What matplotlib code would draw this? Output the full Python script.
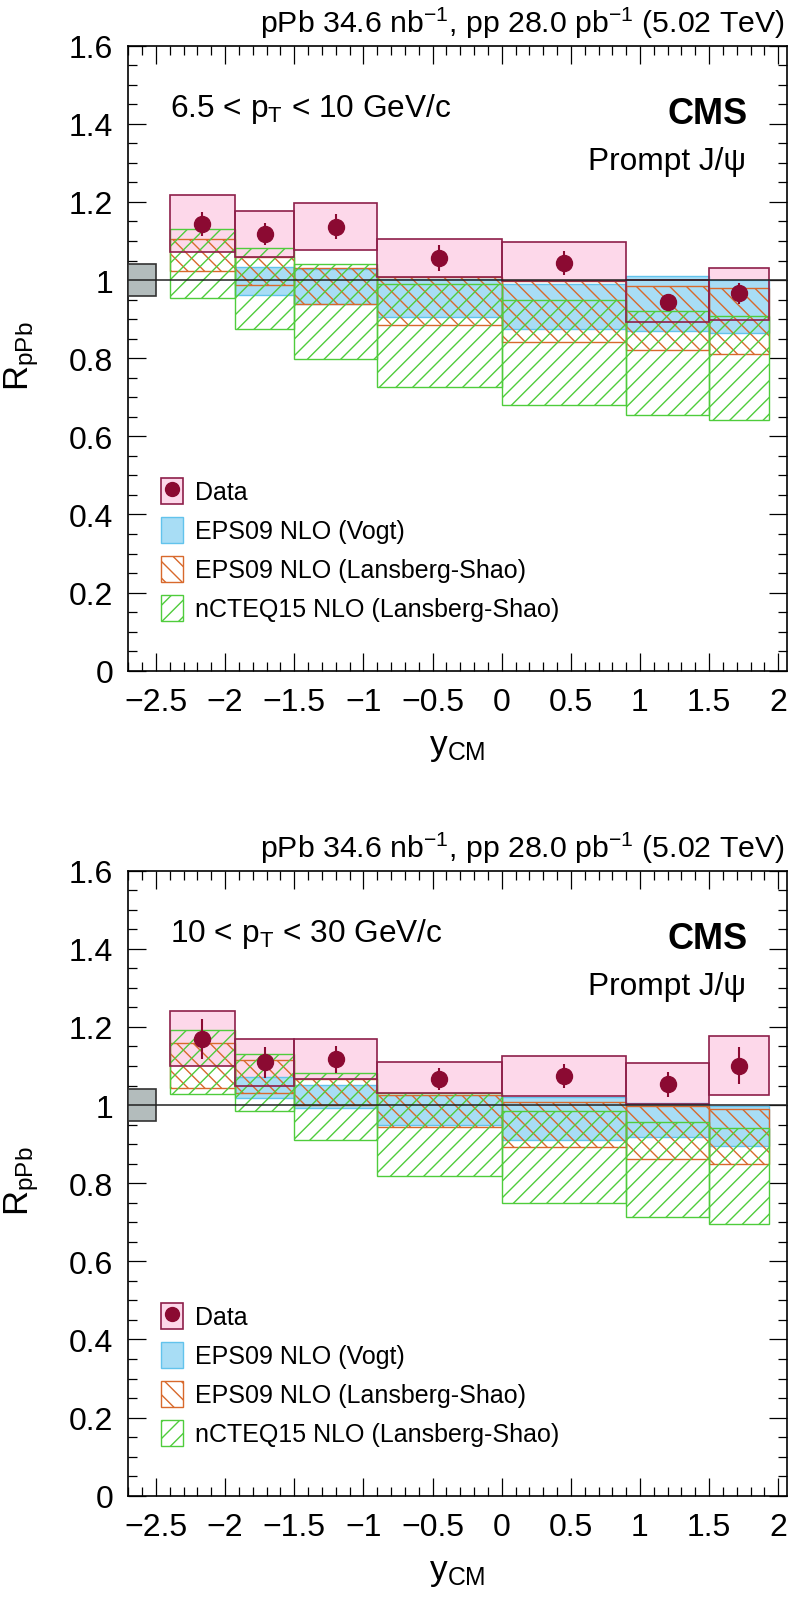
import matplotlib
matplotlib.use("Agg")
import matplotlib.pyplot as plt
from matplotlib.patches import Patch
from matplotlib.lines import Line2D
from matplotlib.ticker import MultipleLocator
import numpy as np

plt.rcParams.update({
    'font.family': 'Liberation Sans',
    'mathtext.fontset': 'custom',
    'mathtext.rm': 'Liberation Sans',
    'mathtext.it': 'Liberation Sans:italic',
    'mathtext.bf': 'Liberation Sans:bold',
    'hatch.linewidth': 1.0,
})

# rapidity bins (y_CM)
bin_edges = [-2.4, -1.93, -1.5, -0.9, 0.0, 0.9, 1.5, 1.93]
global_unc = 0.042

# 6.5 < pT < 10 GeV/c
lo_val = [1.144, 1.117, 1.137, 1.056, 1.044, 0.944, 0.966]
lo_stat = [0.030, 0.028, 0.033, 0.034, 0.030, 0.018, 0.026]
lo_sys_lo = [1.072, 1.059, 1.076, 1.008, 0.998, 0.892, 0.899]
lo_sys_hi = [1.217, 1.176, 1.197, 1.106, 1.097, 1.000, 1.032]
lo_vogt_lo = [np.nan, 0.961, 0.938, 0.906, 0.876, 0.869, 0.865]
lo_vogt_hi = [np.nan, 1.034, 1.029, 1.002, 0.991, 1.010, 1.000]
lo_ls_lo = [1.023, 0.988, 0.940, 0.885, 0.842, 0.821, 0.811]
lo_ls_hi = [1.104, 1.060, 1.032, 1.009, 0.997, 0.985, 0.980]
lo_nc_lo = [0.953, 0.874, 0.799, 0.726, 0.679, 0.655, 0.643]
lo_nc_hi = [1.130, 1.083, 1.040, 0.991, 0.949, 0.922, 0.909]

# 10 < pT < 30 GeV/c
hi_val = [1.169, 1.109, 1.117, 1.067, 1.074, 1.053, 1.101]
hi_stat = [0.052, 0.040, 0.034, 0.029, 0.030, 0.032, 0.048]
hi_sys_lo = [1.101, 1.050, 1.068, 1.030, 1.024, 1.004, 1.026]
hi_sys_hi = [1.240, 1.168, 1.170, 1.110, 1.125, 1.108, 1.177]
hi_vogt_lo = [np.nan, 1.019, 0.993, 0.950, 0.910, 0.917, 0.896]
hi_vogt_hi = [np.nan, 1.073, 1.051, 1.027, 1.021, 1.006, 0.998]
hi_ls_lo = [1.044, 1.030, 1.000, 0.944, 0.892, 0.863, 0.848]
hi_ls_hi = [1.160, 1.115, 1.067, 1.026, 1.009, 0.998, 0.991]
hi_nc_lo = [1.029, 0.985, 0.910, 0.819, 0.750, 0.713, 0.695]
hi_nc_hi = [1.192, 1.132, 1.083, 1.030, 0.985, 0.957, 0.942]

pt_labels = [r'6.5 < p$_{\rm T}$ < 10 GeV/c', r'10 < p$_{\rm T}$ < 30 GeV/c']
header = r'pPb 34.6 nb$^{-1}$, pp 28.0 pb$^{-1}$ (5.02 TeV)'
legend_labels = ['Data', 'EPS09 NLO (Vogt)', 'EPS09 NLO (Lansberg-Shao)',
                 'nCTEQ15 NLO (Lansberg-Shao)']

pink_fill = '#fdd8ea'
pink_edge = '#8e1f4a'
dot_col = '#8b0a32'
blue_fill = '#a8ddf5'
blue_edge = '#62c3ec'
orange = '#d8692c'
green = '#4fcc3c'

W, H = 796, 1608
fig = plt.figure(figsize=(W / 100, H / 100), dpi=100)

# axes frame in pixels (top panel); bottom panel is the same frame shifted down
L, R_, T, B = 128.3, 787.0, 46.7, 671.7
shift = 825


def ax_frac(px, py):
    return (px - L) / (R_ - L), (B - py) / (B - T)


def draw_panel(ax, label, val, stat, sys_lo, sys_hi, vg_lo, vg_hi, ls_lo, ls_hi, nc_lo, nc_hi):
    edges = np.array(bin_edges)
    left = edges[:-1]
    width = np.diff(edges)
    centers = left + width / 2

    ax.bar(left, np.array(sys_hi) - np.array(sys_lo), width, bottom=sys_lo, align='edge',
           color=pink_fill, edgecolor='none', zorder=1)
    ax.bar(left, np.array(vg_hi) - np.array(vg_lo), width, bottom=vg_lo, align='edge',
           color=blue_fill, edgecolor=blue_edge, linewidth=1.0, zorder=2)
    ax.bar(left, np.array(ls_hi) - np.array(ls_lo), width, bottom=ls_lo, align='edge',
           color='none', edgecolor=orange, hatch='\\\\', linewidth=1.0, zorder=3)
    ax.bar(left, np.array(nc_hi) - np.array(nc_lo), width, bottom=nc_lo, align='edge',
           color='none', edgecolor=green, hatch='//', linewidth=1.0, zorder=4)
    ax.bar(left, np.array(sys_hi) - np.array(sys_lo), width, bottom=sys_lo, align='edge',
           color='none', edgecolor=pink_edge, linewidth=1.2, zorder=5)

    # global uncertainty box
    ax.bar(-2.7, 2 * global_unc, 0.2, bottom=1 - global_unc, align='edge',
           color='#b3bcbc', edgecolor='#333333', linewidth=1.2, zorder=5)
    ax.axhline(1.0, color='#222222', linewidth=1.1, zorder=5.5)

    ax.errorbar(centers, val, yerr=stat, fmt='o', color=dot_col, markersize=11.5,
                elinewidth=1.5, capsize=0, zorder=6)

    ax.set_xlim(-2.7, 2.063)
    ax.set_ylim(0, 1.6)
    ax.xaxis.set_minor_locator(MultipleLocator(0.1))
    ax.yaxis.set_minor_locator(MultipleLocator(0.05))
    ax.set_xticks([-2.5, -2, -1.5, -1, -0.5, 0, 0.5, 1, 1.5, 2])
    ax.set_xticklabels(['\u22122.5', '\u22122', '\u22121.5', '\u22121', '\u22120.5',
                        '0', '0.5', '1', '1.5', '2'])
    ax.set_yticks([0, 0.2, 0.4, 0.6, 0.8, 1.0, 1.2, 1.4, 1.6])
    ax.set_yticklabels(['0', '0.2', '0.4', '0.6', '0.8', '1', '1.2', '1.4', '1.6'])
    ax.tick_params(which='both', direction='in', top=True, right=True, width=0.9)
    ax.tick_params(which='major', length=13.3, labelsize=23)
    ax.tick_params(axis='x', which='major', pad=11.5)
    ax.tick_params(axis='y', which='major', pad=11)
    ax.tick_params(which='minor', length=6.5)
    for s in ax.spines.values():
        s.set_linewidth(1.2)

    t = ax.transAxes
    ax.text(*ax_frac(785, 33.3), header, transform=t, ha='right', va='baseline', fontsize=21.8)
    ax.text(*ax_frac(170, 116.7), label, transform=t, ha='left', va='baseline', fontsize=22.8)
    ax.text(*ax_frac(748, 124), 'CMS', transform=t, ha='right', va='baseline',
            fontsize=26, fontweight='bold')
    ax.text(*ax_frac(746, 170), 'Prompt J/\u03c8', transform=t, ha='right', va='baseline',
            fontsize=22.8)
    ax.text(*ax_frac(28, 391), r'R$_{\rm pPb}$', transform=t, rotation=90,
            rotation_mode='anchor', ha='left', va='baseline', fontsize=25)
    ax.text(*ax_frac(457.6, 755), r'y$_{\rm CM}$', transform=t, ha='center',
            va='baseline', fontsize=25.5)

    handles = [
        (Patch(facecolor=pink_fill, edgecolor=pink_edge, linewidth=1.2),
         Line2D([], [], marker='o', color=dot_col, linestyle='none', markersize=10)),
        Patch(facecolor=blue_fill, edgecolor=blue_edge, linewidth=1.0),
        Patch(facecolor='none', edgecolor=orange, hatch='\\\\', linewidth=1.0),
        Patch(facecolor='none', edgecolor=green, hatch='//', linewidth=1.0),
    ]
    ax.legend(handles, legend_labels, loc='upper left', bbox_to_anchor=ax_frac(161, 479),
              frameon=False, fontsize=18, handlelength=0.87, handleheight=1.23,
              handletextpad=0.5, labelspacing=0.5, borderpad=0, borderaxespad=0)


w = (R_ - L) / W
h = (B - T) / H
ax1 = fig.add_axes([L / W, 1 - B / H, w, h])
ax2 = fig.add_axes([L / W, 1 - (B + shift) / H, w, h])

draw_panel(ax1, pt_labels[0], lo_val, lo_stat, lo_sys_lo, lo_sys_hi, lo_vogt_lo, lo_vogt_hi,
           lo_ls_lo, lo_ls_hi, lo_nc_lo, lo_nc_hi)
draw_panel(ax2, pt_labels[1], hi_val, hi_stat, hi_sys_lo, hi_sys_hi, hi_vogt_lo, hi_vogt_hi,
           hi_ls_lo, hi_ls_hi, hi_nc_lo, hi_nc_hi)

fig.savefig('out.png', dpi=100)
